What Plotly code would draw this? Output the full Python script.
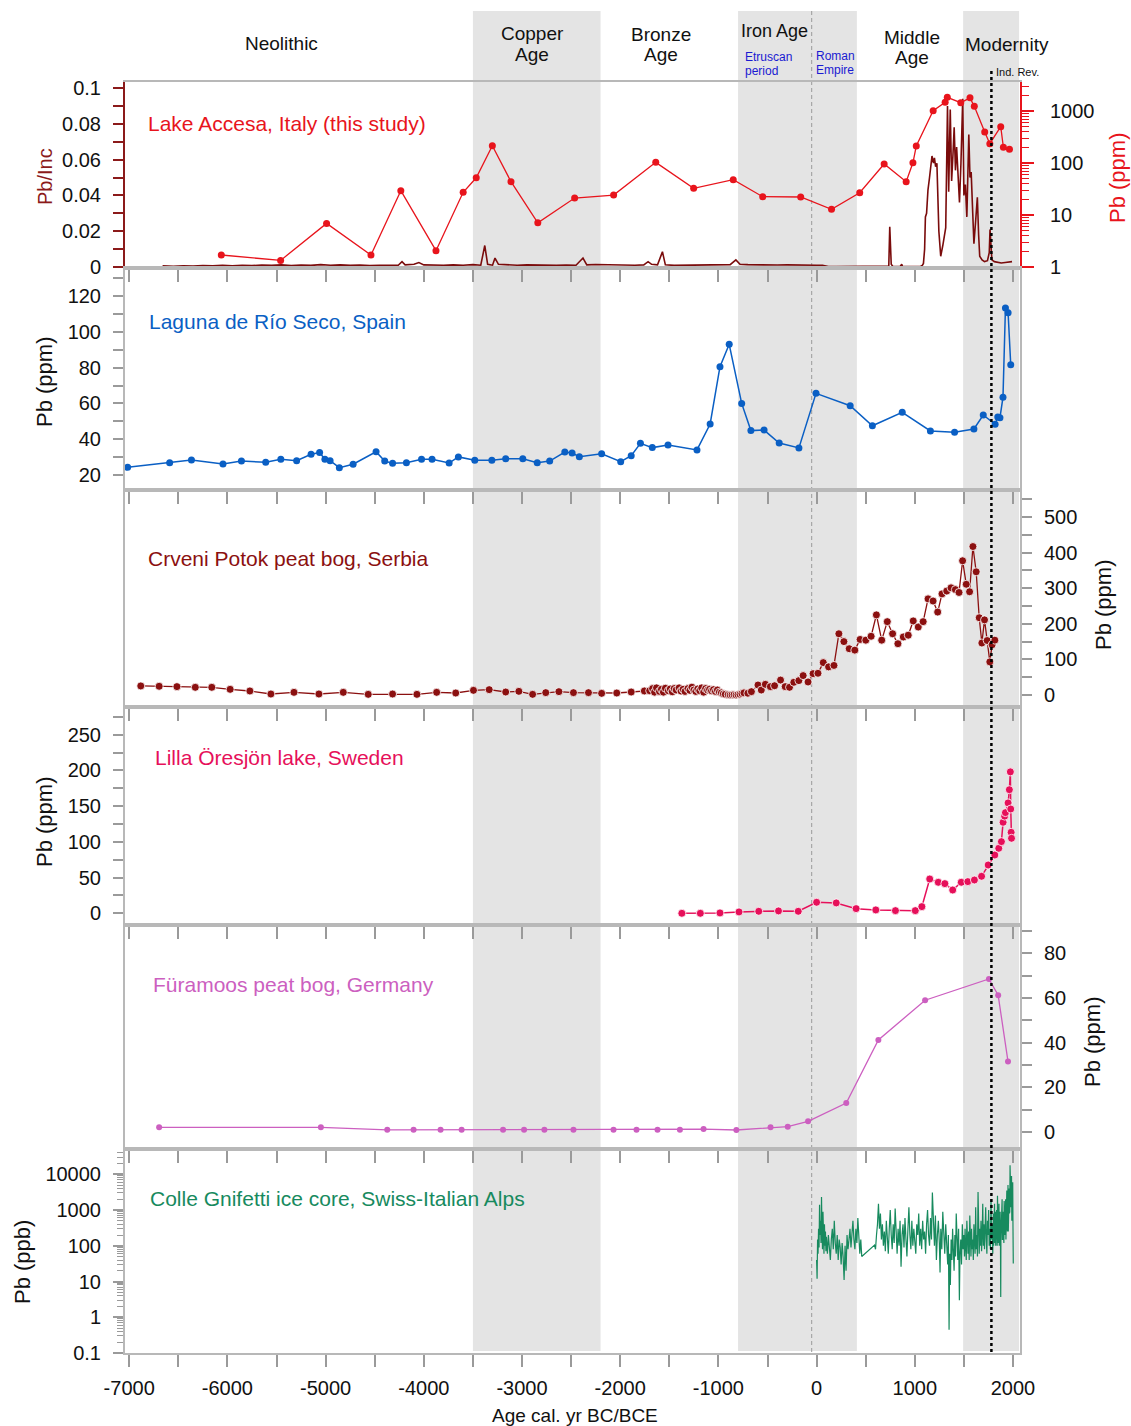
import plotly.graph_objects as go

# ---------------- data ----------------
# Lake Accesa: Pb/Inc (XRF, high resolution) as (year, ratio)
accesa_inc = [
    (-6660, 0.0006), (-6550, 0.0004), (-6450, 0.0007), (-6350, 0.0005), (-6250, 0.0008),
    (-6150, 0.0006), (-6050, 0.0009), (-5950, 0.0007), (-5850, 0.0010), (-5750, 0.0008),
    (-5650, 0.0011), (-5550, 0.0009), (-5450, 0.0012), (-5350, 0.0008), (-5250, 0.0011),
    (-5150, 0.0009), (-5050, 0.0013), (-4950, 0.0010), (-4850, 0.0012), (-4750, 0.0009),
    (-4650, 0.0011), (-4550, 0.0008), (-4450, 0.0010), (-4350, 0.0012), (-4260, 0.0010),
    (-4222, 0.0030), (-4190, 0.0012), (-4100, 0.0015), (-4050, 0.0025), (-4000, 0.0012),
    (-3900, 0.0009), (-3800, 0.0010), (-3700, 0.0012), (-3600, 0.0010), (-3500, 0.0013),
    (-3420, 0.0010), (-3379, 0.0120), (-3350, 0.0015), (-3300, 0.0010), (-3275, 0.0050),
    (-3240, 0.0015), (-3150, 0.0012), (-3050, 0.0010), (-2950, 0.0012), (-2850, 0.0010),
    (-2750, 0.0011), (-2650, 0.0009), (-2550, 0.0011), (-2450, 0.0010), (-2379, 0.0050),
    (-2340, 0.0012), (-2250, 0.0014), (-2150, 0.0012), (-2050, 0.0011), (-1950, 0.0012),
    (-1850, 0.0010), (-1760, 0.0012), (-1716, 0.0030), (-1680, 0.0015), (-1620, 0.0012),
    (-1570, 0.0085), (-1540, 0.0012), (-1450, 0.0009), (-1350, 0.0010), (-1250, 0.0012),
    (-1150, 0.0010), (-1050, 0.0012), (-950, 0.0011), (-880, 0.0013), (-822, 0.0040),
    (-780, 0.0015), (-700, 0.0013), (-600, 0.0011), (-500, 0.0013), (-400, 0.0011),
    (-300, 0.0012), (-200, 0.0010), (-100, 0.0011), (0, 0.0010), (60, 0.0009),
    (120, 0.0003), (200, 0.0002), (300, 0.0003), (400, 0.0002), (500, 0.0002),
    (600, 0.0002), (700, 0.0003), (735, 0.0005), (745, 0.0225), (752, 0.0100),
    (760, 0.0015), (775, 0.0004), (850, 0.0003), (867, 0.0015), (875, 0.0003),
    (950, 0.0002), (1030, 0.0003), (1060, 0.0004), (1075, 0.0008), (1088, 0.0020),
    (1100, 0.0100), (1108, 0.0280), (1120, 0.0300), (1134, 0.0430), (1150, 0.0500),
    (1165, 0.0600), (1175, 0.0620), (1190, 0.0580), (1200, 0.0610), (1212, 0.0560),
    (1225, 0.0580), (1245, 0.0200), (1264, 0.0060), (1285, 0.0120), (1300, 0.0180),
    (1315, 0.0220), (1333, 0.0900), (1345, 0.0420), (1361, 0.0880), (1375, 0.0480),
    (1388, 0.0620), (1401, 0.0780), (1414, 0.0540), (1426, 0.0670), (1440, 0.0520),
    (1455, 0.0360), (1470, 0.0580), (1488, 0.0940), (1500, 0.0400), (1515, 0.0460),
    (1530, 0.0280), (1550, 0.0740), (1562, 0.0500), (1574, 0.0530), (1590, 0.0300),
    (1602, 0.0130), (1620, 0.0260), (1637, 0.0390), (1650, 0.0180), (1661, 0.0060),
    (1685, 0.0040), (1710, 0.0030), (1740, 0.0035), (1758, 0.0080), (1766, 0.0210),
    (1774, 0.0120), (1785, 0.0040), (1810, 0.0030), (1840, 0.0025), (1880, 0.0022),
    (1920, 0.0025), (1960, 0.0026), (1990, 0.0030),
]

# Lake Accesa: Pb concentration (ppm)
accesa_pb = [
    (-6062, 1.70), (-5458, 1.34), (-4990, 6.9), (-4538, 1.70), (-4234, 29.4),
    (-3876, 2.06), (-3599, 27.3), (-3466, 52), (-3302, 215), (-3112, 43.7),
    (-2839, 7.1), (-2464, 21.2), (-2067, 24.2), (-1638, 103), (-1252, 32.6),
    (-849, 47.7), (-549, 22.5), (-162, 22.2), (152, 12.9), (439, 26.8),
    (688, 95.7), (912, 43.7), (981, 101), (1015, 212), (1187, 1013),
    (1309, 1470), (1331, 1830), (1468, 1445), (1562, 1790), (1606, 1230),
    (1712, 395), (1764, 235), (1875, 500), (1902, 200), (1964, 183),
]

# Laguna de Rio Seco (ppm)
rioseco_pb = [
    (-7016, 24.3), (-6588, 26.9), (-6366, 28.4), (-6045, 26.1), (-5857, 27.8),
    (-5610, 27.1), (-5456, 28.8), (-5295, 28.0), (-5148, 31.6), (-5061, 32.5),
    (-5007, 28.8), (-4954, 28.0), (-4860, 24.1), (-4720, 26.0), (-4486, 33.0),
    (-4398, 27.8), (-4318, 26.5), (-4177, 26.9), (-4023, 28.8), (-3916, 28.8),
    (-3742, 26.7), (-3648, 30.1), (-3481, 28.2), (-3307, 28.2), (-3166, 29.1),
    (-2992, 29.1), (-2845, 26.9), (-2718, 27.8), (-2564, 32.8), (-2490, 32.3),
    (-2416, 30.2), (-2189, 31.9), (-1995, 27.4), (-1888, 30.8), (-1794, 37.7),
    (-1673, 35.3), (-1513, 36.8), (-1218, 34.0), (-1084, 48.5), (-984, 80.5),
    (-890, 93.0), (-763, 60.0), (-669, 44.8), (-535, 45.1), (-381, 37.9),
    (-180, 35.1), (-6, 65.6), (342, 58.7), (568, 47.5), (872, 55.0),
    (1159, 44.6), (1405, 43.9), (1602, 45.7), (1697, 53.5), (1818, 48.3),
    (1845, 52.4), (1867, 52.0), (1898, 63.4), (1923, 113.3), (1950, 110.7),
    (1977, 81.6),
]

# Crveni Potok peat bog (ppm)
crveni_pb = [
    (-6882, 25.4), (-6695, 24.5), (-6514, 23.5), (-6327, 21.6), (-6159, 21.6),
    (-5972, 16.0), (-5771, 11.3), (-5557, 2.8), (-5322, 7.5), (-5068, 2.8),
    (-4820, 7.5), (-4566, 1.9), (-4318, 2.8), (-4070, 1.9), (-3869, 7.5),
    (-3675, 5.6), (-3494, 13.1), (-3334, 15.0), (-3166, 8.4), (-3032, 10.3),
    (-2892, 1.9), (-2758, 6.6), (-2624, 9.4), (-2476, 6.6), (-2323, 6.6),
    (-2189, 4.7), (-2035, 5.6), (-1888, 8.4), (-1754, 11.3), (-1700, 12),
    (-1670, 18), (-1650, 8), (-1630, 20), (-1600, 10), (-1580, 16),
    (-1560, 8), (-1540, 19), (-1510, 12), (-1490, 17), (-1470, 9),
    (-1450, 18), (-1430, 14), (-1400, 20), (-1380, 11), (-1360, 16),
    (-1340, 10), (-1310, 18), (-1290, 13), (-1270, 22), (-1250, 14),
    (-1230, 10), (-1210, 17), (-1190, 12), (-1170, 20), (-1150, 8),
    (-1130, 18), (-1110, 14), (-1090, 16), (-1070, 12), (-1050, 15),
    (-1030, 10), (-1010, 14), (-990, 8), (-970, 6), (-950, 3),
    (-930, 2), (-900, 1), (-880, 0), (-860, 0.5), (-840, 1),
    (-820, 0), (-800, 1), (-780, 2), (-760, 4), (-740, 6),
    (-700, 5), (-664, 9.4), (-597, 28), (-563, 14), (-522, 30),
    (-471, 23.5), (-428, 26), (-367, 42), (-320, 23.5), (-276, 21.6),
    (-232, 35.7), (-181, 40.4), (-137, 54.5), (-87, 36.6), (-36, 60),
    (14, 61), (68, 91), (122, 79), (177, 83), (227, 172),
    (278, 150), (332, 130), (389, 126), (443, 156), (501, 154),
    (555, 165), (609, 225), (663, 154), (720, 206), (774, 172),
    (828, 144), (883, 163), (933, 168), (984, 208), (1035, 191),
    (1085, 206), (1135, 270), (1186, 264), (1233, 233), (1277, 284),
    (1325, 292), (1369, 301), (1413, 296), (1450, 288), (1487, 377),
    (1524, 311), (1558, 290), (1592, 417), (1625, 346), (1656, 217),
    (1683, 146), (1710, 211), (1737, 153), (1764, 93), (1787, 141),
    (1815, 154),
]

# Lilla Oresjon lake (ppm)
lilla_pb = [
    (-1372, 0.0), (-1184, 0.0), (-984, 0.5), (-790, 1.9), (-589, 2.8),
    (-388, 3.3), (-187, 2.8), (0, 15.4), (200, 14.5), (402, 6.5),
    (603, 4.7), (803, 3.7), (1005, 3.7), (1072, 9.3), (1152, 48.0),
    (1239, 43.4), (1306, 41.5), (1386, 32.6), (1473, 43.4), (1540, 44.3),
    (1607, 46.6), (1680, 51.8), (1747, 67.6), (1815, 81.6), (1855, 91.0),
    (1882, 100.3), (1899, 127.4), (1915, 136), (1923, 140.9), (1950, 154.5),
    (1963, 173), (1973, 198), (1977, 146), (1981, 113.4), (1985, 105),
]

# Furamoos peat bog (ppm)
furamoos_pb = [
    (-6695, 2.1), (-5048, 2.1), (-4372, 1.0), (-4104, 1.0), (-3829, 1.0),
    (-3615, 1.0), (-3193, 1.0), (-2979, 1.0), (-2772, 1.0), (-2476, 1.0),
    (-2068, 1.0), (-1834, 1.0), (-1620, 1.0), (-1392, 1.0), (-1151, 1.3),
    (-817, 0.9), (-469, 2.1), (-294, 2.4), (-87, 4.8), (302, 13.0),
    (629, 41.2), (1105, 59.0), (1755, 68.5), (1849, 61.2), (1949, 31.6),
]

# Colle Gnifetti ice core (ppb)
colle_pb = [
    (0, 40), (5, 12), (10, 150), (15, 60), (20, 300), (25, 90), (30, 1400), (35, 200),
    (40, 500), (45, 120), (50, 2300), (55, 300), (60, 80), (65, 900), (70, 150), (75, 60),
    (80, 400), (85, 100), (90, 250), (95, 70), (100, 180), (110, 60), (120, 200), (130, 90),
    (140, 40), (150, 150), (160, 300), (170, 80), (180, 500), (190, 120), (200, 60), (210, 200),
    (220, 40), (230, 150), (240, 90), (250, 30), (260, 120), (270, 50), (280, 11), (290, 100),
    (300, 20), (310, 200), (320, 80), (330, 150), (340, 300), (350, 90), (360, 200), (370, 500),
    (380, 150), (390, 80), (400, 300), (410, 120), (420, 600), (430, 200), (440, 60), (450, 150),
    (460, 50), (590, 105), (600, 80), (610, 200), (620, 400), (630, 1500), (640, 300), (650, 800),
    (660, 150), (670, 400), (680, 100), (690, 250), (700, 70), (710, 500), (720, 150), (730, 60),
    (740, 300), (750, 1000), (760, 200), (770, 80), (780, 400), (790, 120), (800, 1100), (810, 200),
    (820, 60), (830, 300), (840, 100), (850, 500), (860, 26), (870, 200), (880, 400), (890, 90),
    (900, 600), (910, 150), (920, 50), (930, 300), (940, 1200), (950, 200), (960, 80), (970, 500),
    (980, 100), (990, 300), (1000, 150), (1010, 60), (1020, 400), (1030, 200), (1040, 800), (1050, 100),
    (1060, 300), (1070, 80), (1080, 500), (1090, 150), (1100, 250), (1110, 60), (1120, 400), (1130, 1000),
    (1140, 200), (1150, 100), (1160, 600), (1170, 150), (1179, 3100), (1190, 300), (1200, 100), (1210, 700),
    (1220, 40), (1230, 200), (1240, 500), (1250, 120), (1257, 18), (1265, 300), (1275, 80), (1285, 900),
    (1295, 150), (1305, 60), (1315, 400), (1325, 100), (1335, 30), (1342, 200), (1349, 0.45), (1355, 60),
    (1362, 8), (1370, 150), (1378, 40), (1385, 300), (1392, 60), (1400, 20), (1408, 200), (1415, 50),
    (1422, 800), (1430, 100), (1438, 40), (1446, 300), (1454, 3), (1460, 60), (1468, 150), (1476, 30),
    (1484, 400), (1492, 80), (1500, 200), (1506, 50), (1512, 300), (1518, 90), (1524, 40), (1530, 500),
    (1536, 120), (1542, 60), (1548, 250), (1554, 40), (1560, 700), (1566, 100), (1572, 50), (1578, 300),
    (1584, 80), (1590, 150), (1596, 40), (1602, 400), (1608, 100), (1614, 60), (1620, 1200), (1626, 80),
    (1632, 200), (1638, 50), (1644, 3200), (1650, 150), (1656, 60), (1662, 300), (1668, 100), (1674, 500),
    (1680, 70), (1686, 200), (1692, 1500), (1698, 100), (1704, 400), (1710, 80), (1716, 250), (1722, 1200),
    (1728, 150), (1734, 60), (1740, 500), (1746, 200), (1752, 1000), (1758, 100), (1764, 300), (1770, 80),
    (1776, 2000), (1782, 150), (1788, 400), (1794, 60), (1800, 800), (1803, 100), (1806, 200), (1809, 600),
    (1812, 1500), (1815, 120), (1818, 300), (1821, 900), (1824, 100), (1827, 150), (1830, 600), (1833, 1000),
    (1836, 200), (1839, 100), (1842, 2500), (1845, 700), (1848, 150), (1851, 120), (1854, 400), (1857, 1500),
    (1860, 100), (1863, 200), (1866, 700), (1869, 900), (1872, 200), (1875, 3.7), (1877, 150), (1880, 300),
    (1883, 500), (1886, 1200), (1889, 2000), (1892, 150), (1895, 150), (1898, 600), (1901, 900), (1904, 200),
    (1907, 120), (1910, 1800), (1913, 1200), (1916, 300), (1919, 200), (1922, 800), (1925, 2000), (1928, 150),
    (1931, 300), (1934, 2500), (1937, 3500), (1940, 400), (1943, 250), (1946, 1000), (1949, 5000), (1952, 250),
    (1955, 600), (1958, 3000), (1961, 4000), (1964, 800), (1967, 900), (1970, 18000), (1973, 8000), (1976, 2000),
    (1979, 1200), (1982, 6000), (1985, 9000), (1988, 500), (1991, 800), (1994, 3000), (1997, 6000), (2000, 300),
    (2003, 32),
]

# cultural periods (shaded) and reference lines
bands = [(-3500, -2200), (-800, 410), (1492, 2062)]
roman_line = -50
ind_rev = 1780

x_ticks = [-7000, -6000, -5000, -4000, -3000, -2000, -1000, 0, 1000, 2000]

# ---------------- layout helpers ----------------
W, H = 1131, 1426
PL, PR, PT, PB = 125, 1020, 0, 1353          # plot area in pixels


def fx(px):
    return (px - PL) / (PR - PL)


def fy(py):
    return (PB - py) / (PB - PT)


def px_to_year(px):
    return (px - 816.6) / 0.0982


def xy(pairs):
    return [p[0] for p in pairs], [p[1] for p in pairs]


FONT = "Liberation Sans, Arial, Helvetica, sans-serif"
GREY = "#b8b8b8"
TICKGREY = "#9a9a9a"
TXT = "#111111"
tickfont = dict(family=FONT, size=20, color=TXT)

panels = [(82, 268), (268, 490), (490, 707), (707, 925), (925, 1149), (1149, 1353)]
xrange_ = [px_to_year(PL), px_to_year(PR)]

fig = go.Figure()

# traces
xs, ys = xy(accesa_inc)
fig.add_trace(go.Scatter(x=xs, y=ys, mode="lines", line=dict(color="#7a0b0b", width=1.6),
                         xaxis="x", yaxis="y"))
xs, ys = xy(accesa_pb)
fig.add_trace(go.Scatter(x=xs, y=ys, mode="lines+markers", line=dict(color="#e8141c", width=1.3),
                         marker=dict(size=7, color="#e8141c"), xaxis="x", yaxis="y2"))
xs, ys = xy(rioseco_pb)
fig.add_trace(go.Scatter(x=xs, y=ys, mode="lines+markers", line=dict(color="#0a5fc4", width=1.5),
                         marker=dict(size=7, color="#0a5fc4"), xaxis="x2", yaxis="y3"))
xs, ys = xy(crveni_pb)
fig.add_trace(go.Scatter(x=xs, y=ys, mode="lines+markers", line=dict(color="#8b1010", width=1.3),
                         marker=dict(size=8, color="#8b1010", line=dict(color="white", width=0.8)),
                         xaxis="x3", yaxis="y4"))
xs, ys = xy(lilla_pb)
fig.add_trace(go.Scatter(x=xs, y=ys, mode="lines+markers", line=dict(color="#e6105a", width=1.5),
                         marker=dict(size=8, color="#e6105a", line=dict(color="white", width=0.8)),
                         xaxis="x4", yaxis="y5"))
xs, ys = xy(furamoos_pb)
fig.add_trace(go.Scatter(x=xs, y=ys, mode="lines+markers", line=dict(color="#cc5fc0", width=1.3),
                         marker=dict(size=6, color="#cc5fc0"), xaxis="x5", yaxis="y6"))
xs, ys = xy(colle_pb)
fig.add_trace(go.Scatter(x=xs, y=ys, mode="lines", line=dict(color="#178a5e", width=1.2),
                         xaxis="x6", yaxis="y7"))

# axes
yanchor = ["y", "y3", "y4", "y5", "y6", "y7"]
layout_axes = {}
for i, (top, bot) in enumerate(panels):
    last = i == len(panels) - 1
    name = "xaxis" if i == 0 else "xaxis%d" % (i + 1)
    layout_axes[name] = dict(
        domain=[0, 1], range=xrange_, anchor=yanchor[i], showline=True, mirror=True,
        linecolor=GREY, linewidth=2, ticks="outside", ticklen=12, tickwidth=1.5,
        tickcolor=TICKGREY, showgrid=False, zeroline=False, automargin=False,
        tickvals=x_ticks, ticktext=[str(v) for v in x_ticks],
        showticklabels=last, tickfont=tickfont, ticklabelstandoff=4,
        minor=dict(dtick=500, tick0=0, ticks="outside", ticklen=12, tickwidth=1.5,
                   tickcolor=TICKGREY, showgrid=False),
    )


def ydom(i):
    top, bot = panels[i]
    return [fy(bot), fy(top)]


common_y = dict(showgrid=False, zeroline=False, ticks="outside", tickfont=tickfont,
                ticklabelstandoff=8, showline=True, linewidth=2, automargin=False)

log_minor = [m * 10 ** e for e in range(-1, 5) for m in range(2, 10)]

layout_axes["yaxis"] = dict(
    common_y, domain=ydom(0), range=[-0.00056, 0.10335], anchor="x", side="left",
    linecolor="#8b1a1a", ticklen=10, tickwidth=1.5, tickcolor="#8b1a1a",
    tickvals=[0, 0.02, 0.04, 0.06, 0.08, 0.1], ticktext=["0", "0.02", "0.04", "0.06", "0.08", "0.1"],
    minor=dict(dtick=0.01, tick0=0, ticks="outside", ticklen=10, tickwidth=1.5, tickcolor="#8b1a1a"),
)
layout_axes["yaxis2"] = dict(
    common_y, domain=ydom(0), type="log", range=[-0.0192, 3.558], anchor="x", side="right",
    overlaying="y", linecolor="#e8141c", ticklen=12, tickwidth=1.5, tickcolor="#e8141c",
    tickvals=[1, 10, 100, 1000], ticktext=["1", "10", "100", "1000"], ticklabelstandoff=12,
    minor=dict(tickvals=[v for v in log_minor if 1 < v < 4000], ticks="outside", ticklen=7,
               tickwidth=1.2, tickcolor="#e8141c"),
)
layout_axes["yaxis3"] = dict(
    common_y, domain=ydom(1), range=[11.62, 135.64], anchor="x2", side="left", mirror=True,
    linecolor=GREY, ticklen=10, tickwidth=1.5, tickcolor=TICKGREY,
    tickvals=[20, 40, 60, 80, 100, 120],
    minor=dict(dtick=10, tick0=0, ticks="outside", ticklen=10, tickwidth=1.5, tickcolor=TICKGREY),
)
layout_axes["yaxis4"] = dict(
    common_y, domain=ydom(2), range=[-33.7, 575.8], anchor="x3", side="right", mirror=True,
    linecolor=GREY, ticklen=10, tickwidth=1.5, tickcolor=TICKGREY,
    tickvals=[0, 100, 200, 300, 400, 500],
    minor=dict(dtick=50, tick0=0, ticks="outside", ticklen=10, tickwidth=1.5, tickcolor=TICKGREY),
)
layout_axes["yaxis5"] = dict(
    common_y, domain=ydom(3), range=[-16.4, 288.8], anchor="x4", side="left", mirror=True,
    linecolor=GREY, ticklen=10, tickwidth=1.5, tickcolor=TICKGREY,
    tickvals=[0, 50, 100, 150, 200, 250],
    minor=dict(dtick=25, tick0=0, ticks="outside", ticklen=10, tickwidth=1.5, tickcolor=TICKGREY),
)
layout_axes["yaxis6"] = dict(
    common_y, domain=ydom(4), range=[-7.6, 92.67], anchor="x5", side="right", mirror=True,
    linecolor=GREY, ticklen=10, tickwidth=1.5, tickcolor=TICKGREY,
    tickvals=[0, 20, 40, 60, 80],
    minor=dict(dtick=10, tick0=0, ticks="outside", ticklen=10, tickwidth=1.5, tickcolor=TICKGREY),
)
layout_axes["yaxis7"] = dict(
    common_y, domain=ydom(5), type="log", range=[-1, 4.708], anchor="x6", side="left", mirror=True,
    linecolor=GREY, ticklen=10, tickwidth=1.5, tickcolor=TICKGREY,
    tickvals=[0.1, 1, 10, 100, 1000, 10000], ticktext=["0.1", "1", "10", "100", "1000", "10000"],
    minor=dict(tickvals=[v for v in log_minor if v < 50000], ticks="outside", ticklen=6,
               tickwidth=1.2, tickcolor=TICKGREY),
)

# shaded periods and reference lines
shapes = []
for a, b in bands:
    shapes.append(dict(type="rect", xref="x", yref="paper", x0=a, x1=b, y0=fy(1351), y1=fy(11),
                       fillcolor="#e4e4e4", line=dict(width=0), layer="below"))
shapes.append(dict(type="line", xref="x", yref="paper", x0=roman_line, x1=roman_line,
                   y0=fy(1352), y1=fy(10), line=dict(color="#9a9a9a", width=1, dash="4px,3px"),
                   layer="below"))
shapes.append(dict(type="line", xref="x", yref="paper", x0=ind_rev, x1=ind_rev,
                   y0=fy(1352), y1=fy(68), line=dict(color="black", width=2.5, dash="dot"),
                   layer="above"))

annotations = []


def note(text, px, py, size, color=TXT, xanchor="center", angle=0):
    annotations.append(dict(text=text, x=fx(px), y=fy(py), xref="paper", yref="paper",
                            showarrow=False, xanchor=xanchor, yanchor="middle", textangle=angle,
                            font=dict(family=FONT, size=size, color=color)))


# period headers
note("Neolithic", 281, 44, 19)
note("Copper", 532, 33, 19)
note("Age", 532, 54, 19)
note("Bronze", 661, 34, 19)
note("Age", 661, 54, 19)
note("Iron Age", 774, 31, 18)
note("Etruscan", 743, 57, 12, color="#1a1ad2", xanchor="left")
note("period", 743, 71, 12, color="#1a1ad2", xanchor="left")
note("Roman", 814, 56, 12, color="#1a1ad2", xanchor="left")
note("Empire", 814, 70, 12, color="#1a1ad2", xanchor="left")
note("Middle", 912, 37, 19)
note("Age", 912, 58, 19)
note("Modernity", 1007, 45, 19)
note("Ind. Rev.", 994, 72, 11, xanchor="left")

# site names
note("Lake Accesa, Italy (this study)", 146, 123, 21, color="#e8141c", xanchor="left")
note("Laguna de Río Seco, Spain", 147, 321, 21, color="#0a5fc4", xanchor="left")
note("Crveni Potok peat bog, Serbia", 146, 558, 21, color="#8b1010", xanchor="left")
note("Lilla Öresjön lake, Sweden", 153, 757, 21, color="#e6105a", xanchor="left")
note("Füramoos peat bog, Germany", 151, 984, 21, color="#cc5fc0", xanchor="left")
note("Colle Gnifetti ice core, Swiss-Italian Alps", 148, 1198, 21, color="#178a5e", xanchor="left")

# axis titles
note("Pb/Inc", 45, 177, 20, color="#8b1a1a", angle=-90)
note("Pb (ppm)", 1117, 178, 22, color="#e8141c", angle=-90)
note("Pb (ppm)", 44, 382, 22, angle=-90)
note("Pb (ppm)", 1103, 605, 22, angle=-90)
note("Pb (ppm)", 44, 822, 22, angle=-90)
note("Pb (ppm)", 1092, 1042, 22, angle=-90)
note("Pb (ppb)", 22, 1262, 22, angle=-90)
note("Age cal. yr BC/BCE", 575, 1415, 19)

fig.update_layout(
    width=W, height=H, showlegend=False,
    margin=dict(l=PL, r=W - PR, t=PT, b=H - PB, pad=0, autoexpand=False),
    paper_bgcolor="white", plot_bgcolor="rgba(0,0,0,0)",
    font=dict(family=FONT, color=TXT),
    shapes=shapes, annotations=annotations,
    **layout_axes,
)

fig.write_html("out.html")
